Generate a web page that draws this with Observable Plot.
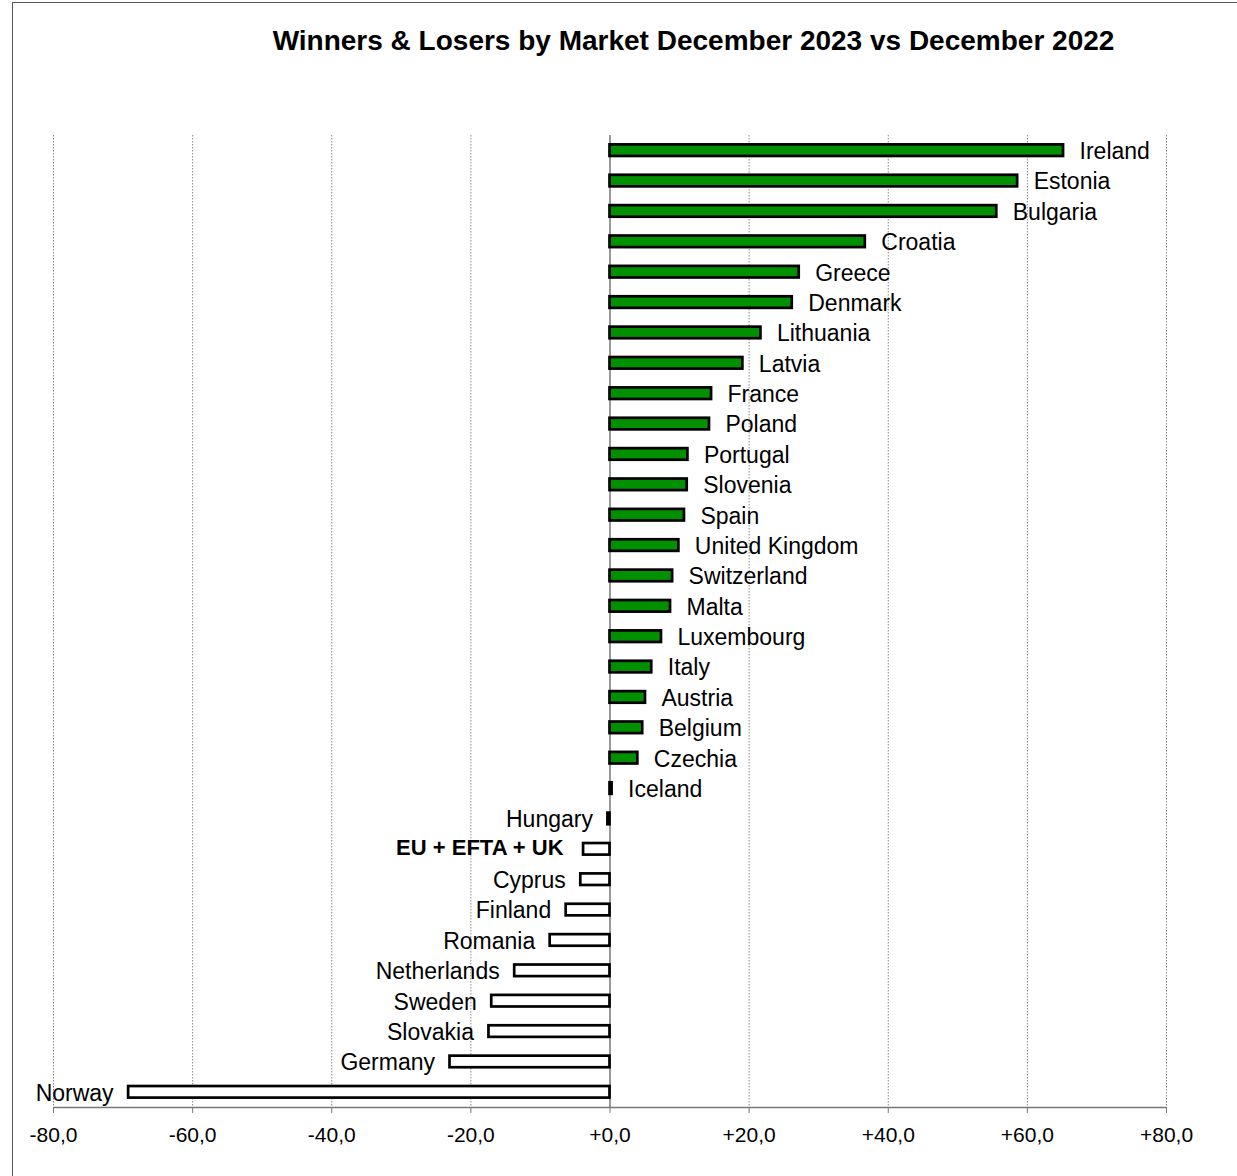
<!DOCTYPE html>
<html>
<head>
<meta charset="utf-8">
<script src="https://cdn.jsdelivr.net/npm/d3@7"></script>
<script src="https://cdn.jsdelivr.net/npm/@observablehq/plot@0.6"></script>
<style>
html, body { margin: 0; padding: 0; background: #fff; width: 1237px; height: 1176px; overflow: hidden; }
#frame { position: absolute; left: 12px; top: 2px; width: 1400px; height: 1400px; border: 1.5px solid #555; box-sizing: border-box; pointer-events: none; }
#title { position: absolute; left: 150px; top: 26px; width: 1087px; text-align: center; font: bold 28px Arial, "Liberation Sans", sans-serif; line-height: 30px; color: #000; }
#chart { position: absolute; left: 0; top: 100px; line-height: 0; }
#chart svg { display: block; }
</style>
</head>
<body>
<div id="frame"></div>
<div id="title">Winners &amp; Losers by Market December 2023 vs December 2022</div>
<div id="chart"></div>
<script>
const categories = ["Ireland","Estonia","Bulgaria","Croatia","Greece","Denmark","Lithuania","Latvia","France","Poland","Portugal","Slovenia","Spain","United Kingdom","Switzerland","Malta","Luxembourg","Italy","Austria","Belgium","Czechia","Iceland","Hungary","EU + EFTA + UK","Cyprus","Finland","Romania","Netherlands","Sweden","Slovakia","Germany","Norway"];
const values = [65.2, 58.6, 55.6, 36.7, 27.2, 26.2, 21.7, 19.1, 14.6, 14.3, 11.2, 11.1, 10.7, 9.9, 9.0, 8.7, 7.4, 6.0, 5.1, 4.7, 4.0, 0.3, -0.3, -3.8, -4.2, -6.3, -8.6, -13.7, -17.0, -17.4, -23.0, -69.2];
const xTicks = [-80, -60, -40, -20, 0, 20, 40, 60, 80];
const boldLabel = "EU + EFTA + UK";

const data = categories.map((c, i) => ({country: c, value: values[i]}));
const fmt = d => (d >= 0 ? "+" : "-") + Math.abs(d).toFixed(1).replace(".", ",");

const W = 1237, H = 1076, mt = 35, mb = 69, ml = 53, mr = 71;
const step = (H - mt - mb) / categories.length;
const font = "Arial, 'Liberation Sans', sans-serif";

const chart = Plot.plot({
  width: W, height: H,
  marginLeft: ml, marginRight: mr, marginTop: mt, marginBottom: mb,
  style: {fontFamily: font, fontSize: "21px", color: "#000", background: "transparent", overflow: "visible"},
  x: {domain: [-80, 80], axis: null},
  y: {domain: categories, axis: null, padding: 0, round: false},
  marks: [
    Plot.ruleX(xTicks.filter(d => d !== 0), {stroke: "#8a8a8a", strokeWidth: 1, strokeDasharray: "1.5,1.5"}),
    Plot.ruleX([0], {stroke: "#777", strokeWidth: 1.5}),
    Plot.ruleY([categories[categories.length - 1]], {dy: step / 2, stroke: "#777", strokeWidth: 1.5}),
    Plot.axisX({ticks: xTicks, tickFormat: fmt, tickSize: 6, tickPadding: 13.5, stroke: "#777", fill: "#000", fontSize: 21, label: null}),
    Plot.barX(data, {filter: d => d.value >= 0, x: "value", y: "country", fill: "#009000", stroke: "#000", strokeWidth: 2.7, insetTop: 9.4, insetBottom: 9.4}),
    Plot.barX(data, {filter: d => d.value < 0, x: "value", y: "country", fill: "#fff", stroke: "#000", strokeWidth: 2.7, insetTop: 9.4, insetBottom: 9.4}),
    Plot.text(data, {filter: d => d.value >= 0, x: "value", y: "country", text: "country", textAnchor: "start", dx: 16, dy: 1, fontSize: 23, fill: "#000"}),
    Plot.text(data, {filter: d => d.value < 0 && d.country !== boldLabel, x: "value", y: "country", text: "country", textAnchor: "end", dx: -15, dy: 1, fontSize: 23, fill: "#000"}),
    Plot.text(data, {filter: d => d.country === boldLabel, x: "value", y: "country", text: "country", textAnchor: "end", dx: -20, dy: -1, fontSize: 22, fontWeight: "bold", fill: "#000"})
  ]
});
document.getElementById("chart").appendChild(chart);
</script>
</body>
</html>
